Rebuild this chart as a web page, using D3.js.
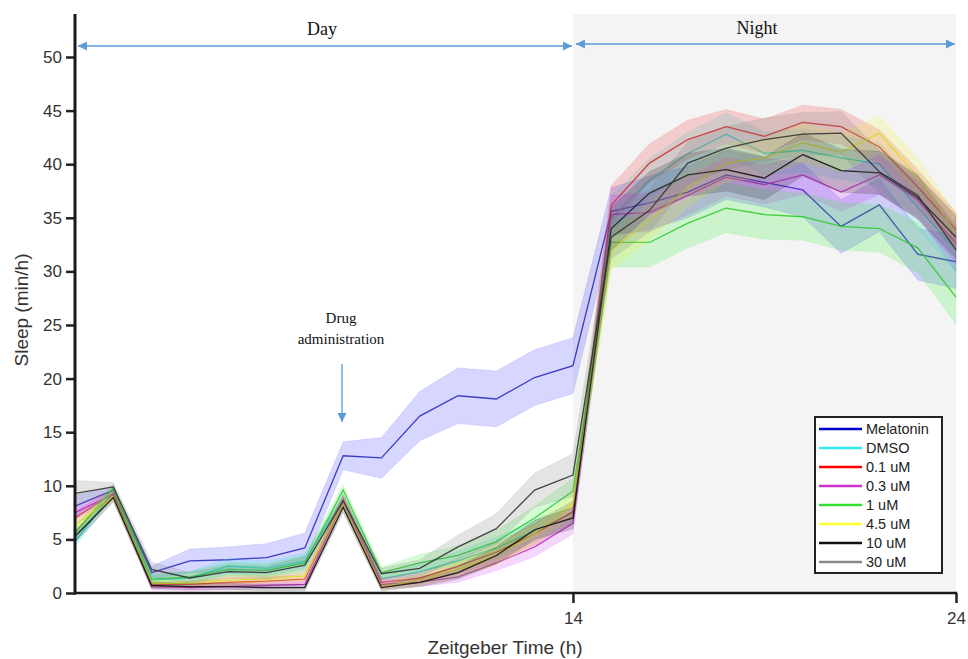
<!DOCTYPE html>
<html><head><meta charset="utf-8">
<script src="https://cdn.jsdelivr.net/npm/d3@7"></script>
<style>body{margin:0;background:#fff}svg{display:block}</style>
</head><body>
<svg id="c" width="968" height="659"></svg>
<script>
const hours = d3.range(1, 25);
const seriesNames = ["Melatonin","DMSO","0.1 uM","0.3 uM","1 uM","4.5 uM","10 uM","30 uM"];
const lineColors = ["#2b2bbf","#22d6d6","#d03030","#c030c8","#2fcc2f","#dcdc2a","#111111","#333333"];
const bandColors = ["#3333ff","#33dddd","#ee3333","#cc33ee","#33ee33","#f2f233","#222222","#777777"];
const legendColors = ["#0000c8","#33e8e8","#ff0000","#cc33cc","#33dd33","#ffff33","#111111","#8a8a8a"];

const melatoninMean = [8.1,9.6,1.9,3.0,3.1,3.3,4.2,12.8,12.6,16.5,18.4,18.1,20.1,21.2,35.6,36.4,37.4,39.0,38.3,37.6,34.2,36.2,31.6,30.9];
const melatoninSem  = [1.0,0.4,0.6,1.1,1.2,1.3,1.4,1.3,1.9,2.3,2.6,2.6,2.6,2.6,2.2,2.5,2.4,2.3,2.3,2.5,2.5,2.5,2.4,2.5];
const dmsoMean = [4.8,9.4,1.2,1.4,2.5,2.3,3.0,8.8,1.3,2.0,3.0,4.2,5.8,7.5,35.0,38.5,41.0,42.8,41.0,41.3,40.6,40.0,36.0,32.0];
const dmsoSem  = [0.5,0.4,0.5,0.6,0.7,0.7,0.7,0.5,0.5,0.7,0.9,1.0,1.0,1.0,2.0,2.0,2.0,2.0,2.0,2.0,2.0,2.0,2.0,2.0];
const c01Mean = [7.0,9.3,0.8,0.8,1.0,1.1,1.3,8.7,1.0,1.4,2.5,3.8,5.5,7.6,36.2,40.1,42.3,43.5,42.6,43.9,43.5,41.6,37.9,33.9];
const c01Sem  = [0.6,0.4,0.3,0.3,0.4,0.4,0.4,0.5,0.4,0.5,0.7,0.9,1.0,1.0,1.8,1.8,1.8,1.6,1.6,1.6,1.6,1.6,1.6,1.6];
const c03Mean = [7.5,9.2,0.6,0.5,0.6,0.7,0.8,8.6,0.8,1.0,1.5,2.8,4.3,6.5,35.3,35.5,37.1,38.8,38.1,39.0,37.4,39.0,36.7,32.6];
const c03Sem  = [0.6,0.4,0.3,0.3,0.3,0.3,0.3,0.5,0.4,0.4,0.5,0.7,0.9,1.0,1.8,1.8,1.8,1.8,1.8,1.8,1.8,1.8,1.8,1.8];
const c1Mean = [5.6,9.8,1.3,1.5,2.2,2.1,2.8,9.6,1.9,2.8,3.5,4.8,7.0,9.5,32.7,32.7,34.5,35.9,35.3,35.1,34.2,34.0,32.2,27.6];
const c1Sem  = [0.6,0.4,0.4,0.5,0.6,0.6,0.7,0.5,0.5,0.8,0.9,1.0,1.1,1.2,2.3,2.3,2.3,2.3,2.3,2.2,2.2,2.2,2.3,2.5];
const c45Mean = [6.3,9.0,0.9,0.9,1.2,1.3,1.6,8.4,0.6,1.2,2.2,3.5,5.5,8.3,32.0,34.8,37.8,40.1,40.6,42.0,41.1,42.9,38.8,33.6];
const c45Sem  = [0.6,0.4,0.3,0.3,0.4,0.4,0.4,0.5,0.3,0.5,0.7,0.9,1.0,1.1,1.8,1.8,1.8,1.8,1.8,1.8,1.8,1.6,1.8,1.8];
const c10Mean = [5.3,8.9,0.7,0.6,0.6,0.5,0.5,8.0,0.5,1.0,1.9,3.5,5.9,7.0,34.0,37.3,39.0,39.5,38.7,40.9,39.4,39.2,36.9,33.2];
const c10Sem  = [0.6,0.4,0.3,0.3,0.3,0.3,0.3,0.5,0.3,0.4,0.6,0.8,0.9,1.0,2.0,2.0,2.0,2.0,2.0,2.0,2.0,2.0,2.0,2.0];
const c30Mean = [9.3,9.9,2.2,1.4,2.0,1.9,2.6,8.6,1.8,2.3,4.3,6.0,9.6,11.0,33.2,35.7,40.1,41.5,42.3,42.8,42.9,39.3,37.1,32.0];
const c30Sem  = [1.2,0.4,0.7,0.5,0.6,0.6,0.8,0.5,0.5,0.8,1.1,1.4,1.6,2.0,2.0,2.0,2.0,2.0,2.0,2.0,2.0,2.0,2.0,2.0];

const yTicks = [0,5,10,15,20,25,30,35,40,45,50];
const xTicks = [14,24];

const means = [melatoninMean,dmsoMean,c01Mean,c03Mean,c1Mean,c45Mean,c10Mean,c30Mean];
const sems = [melatoninSem,dmsoSem,c01Sem,c03Sem,c1Sem,c45Sem,c10Sem,c30Sem];

const svg = d3.select("#c");
const x = d3.scaleLinear().domain([1,24]).range([75,956]);
const y = d3.scaleLinear().domain([0,50]).range([593,57]);

// night shading
svg.append("rect").attr("x", x(14)).attr("y", y(54)).attr("width", x(24)-x(14)).attr("height", y(0)-y(54)).attr("fill","#f4f4f4");

// series
const area = d3.area().x(d=>x(d.h)).y0(d=>y(d.m-d.s)).y1(d=>y(d.m+d.s));
const line = d3.line().x(d=>x(d.h)).y(d=>y(d.m));
means.forEach((m,i)=>{
  const pts = hours.map((h,j)=>({h, m:m[j], s:sems[i][j]}));
  svg.append("path").attr("d", area(pts)).attr("fill", bandColors[i]).attr("fill-opacity",0.2)
     .attr("stroke", bandColors[i]).attr("stroke-opacity",0.15).attr("stroke-width",0.8);
  svg.append("path").attr("d", line(pts)).attr("fill","none").attr("stroke", lineColors[i]).attr("stroke-width",1.3).attr("stroke-opacity",0.9);
});

// axes
const yAxis = d3.axisLeft(y).tickValues(yTicks).tickSize(9).tickPadding(4);
const gy = svg.append("g").attr("transform","translate(75,0)").call(yAxis);
gy.select(".domain").remove();
gy.selectAll(".tick line").attr("stroke","#222").attr("stroke-width",2.5);
gy.selectAll(".tick text").attr("font-family","Liberation Sans, Arial, sans-serif").attr("font-size",17).attr("fill","#333");
svg.append("line").attr("x1",75).attr("x2",75).attr("y1",y(54)).attr("y2",y(0)+1.5).attr("stroke","#1a1a1a").attr("stroke-width",3);

const xAxis = d3.axisBottom(x).tickValues(xTicks).tickSize(10).tickPadding(9).tickFormat(d3.format("d"));
const gx = svg.append("g").attr("transform",`translate(0,${y(0)})`).call(xAxis);
gx.select(".domain").remove();
gx.selectAll(".tick line").attr("stroke","#222").attr("stroke-width",2.5);
gx.selectAll(".tick text").attr("font-family","Liberation Sans, Arial, sans-serif").attr("font-size",17).attr("fill","#333");
svg.append("line").attr("x1",74).attr("x2",x(24)+1).attr("y1",y(0)).attr("y2",y(0)).attr("stroke","#1a1a1a").attr("stroke-width",2.5);

svg.append("text").attr("x",505).attr("y",654).attr("text-anchor","middle")
  .attr("font-family","Liberation Sans, Arial, sans-serif").attr("font-size",19).attr("fill","#333").text("Zeitgeber Time (h)");
svg.append("text").attr("transform","translate(28,310) rotate(-90)").attr("text-anchor","middle")
  .attr("font-family","Liberation Sans, Arial, sans-serif").attr("font-size",19).attr("fill","#333").text("Sleep (min/h)");

// annotations
const arrowColor = "#5b9bd5";
const defs = svg.append("defs");
defs.append("marker").attr("id","ah").attr("viewBox","0 0 10 10").attr("refX",10).attr("refY",5)
  .attr("markerWidth",9).attr("markerHeight",9).attr("markerUnits","userSpaceOnUse").attr("orient","auto-start-reverse")
  .append("path").attr("d","M0,0L10,5L0,10z").attr("fill",arrowColor);
function hArrow(x1,x2,yy){
  svg.append("line").attr("x1",x1).attr("x2",x2).attr("y1",yy).attr("y2",yy).attr("stroke",arrowColor).attr("stroke-width",1.3)
    .attr("marker-start","url(#ah)").attr("marker-end","url(#ah)");
}
hArrow(x(1)+3, x(14)-1, 46);
hArrow(x(14)+3, x(24)-1, 44);
const serif = "Liberation Serif, Times New Roman, serif";
svg.append("text").attr("x",322).attr("y",35).attr("text-anchor","middle").attr("font-family",serif).attr("font-size",18).attr("fill","#111").text("Day");
svg.append("text").attr("x",757).attr("y",34).attr("text-anchor","middle").attr("font-family",serif).attr("font-size",18).attr("fill","#111").text("Night");
svg.append("text").attr("x",341).attr("y",323).attr("text-anchor","middle").attr("font-family",serif).attr("font-size",15).attr("fill","#111").text("Drug");
svg.append("text").attr("x",341).attr("y",344).attr("text-anchor","middle").attr("font-family",serif).attr("font-size",15).attr("fill","#111").text("administration");
svg.append("line").attr("x1",342).attr("x2",342).attr("y1",364).attr("y2",422).attr("stroke",arrowColor).attr("stroke-width",1.3).attr("marker-end","url(#ah)");

// legend
const lg = svg.append("g");
lg.append("rect").attr("x",815).attr("y",417).attr("width",127).attr("height",156).attr("fill","#fff").attr("stroke","#222").attr("stroke-width",2);
seriesNames.forEach((n,i)=>{
  const yy = 429 + i*19;
  lg.append("line").attr("x1",819).attr("x2",862).attr("y1",yy).attr("y2",yy).attr("stroke",legendColors[i]).attr("stroke-width",2.5);
  lg.append("text").attr("x",866).attr("y",yy+5).attr("font-family","Liberation Sans, Arial, sans-serif").attr("font-size",14.5).attr("fill","#222").text(n);
});
</script>
</body></html>
